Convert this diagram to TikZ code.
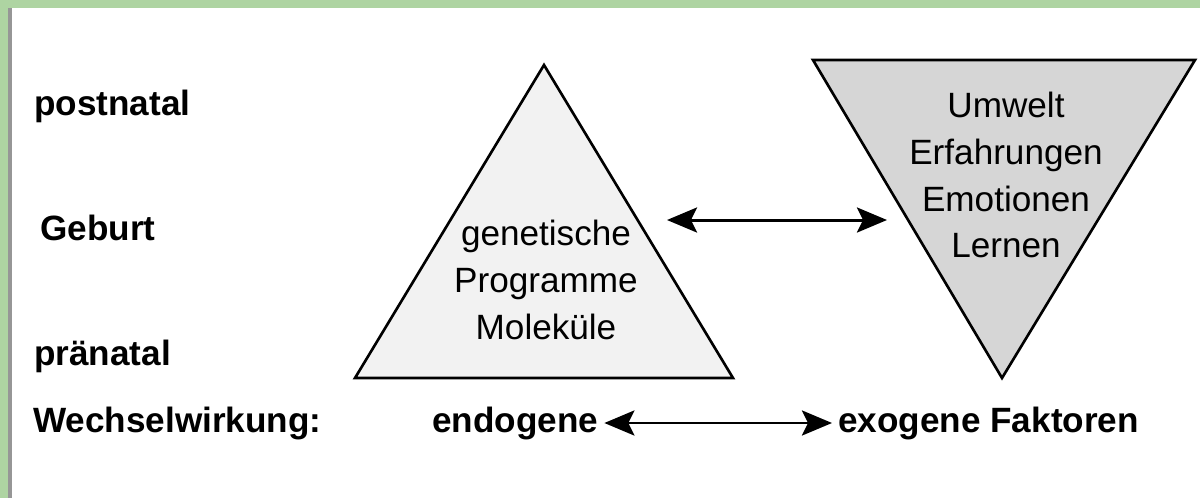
\documentclass[tikz,border=0pt]{standalone}
\usepackage{fontspec}
\setmainfont{Liberation Sans}
\usepackage{tikz}
\usetikzlibrary{arrows.meta,positioning}
\definecolor{PaperGreen}{RGB}{174,212,162}
\definecolor{EdgeGray}{RGB}{150,150,150}
\definecolor{GenFill}{RGB}{242,242,242}
\definecolor{EnvFill}{RGB}{214,214,214}

\begin{document}
\begin{tikzpicture}[x=0.02cm, y=-0.02cm,
    lbl/.style={anchor=base west, font=\fontsize{20}{24}\selectfont\bfseries},
    tri/.style={draw=black, line width=1.5pt, line join=miter},
    inner/.style={align=center, font=\fontsize{20}{26.7}\selectfont},
    arrow/.style={{Stealth[length=6mm,width=5mm,inset=1.2mm]}-{Stealth[length=6mm,width=5mm,inset=1.2mm]}, line width=1.7pt}
  ]
    \useasboundingbox (0,0) rectangle (1200,498);
    % paper frame
    \fill[PaperGreen] (0,0) rectangle (1200,498);
    \fill[white] (8,8) rectangle (1200,498);
    \fill[EdgeGray] (8,8) rectangle (12,498);

    % triangles
    \coordinate (genTop) at (544,65);
    \coordinate (genL) at (355,378);
    \coordinate (genR) at (733,378);
    \coordinate (envL) at (813,60);
    \coordinate (envR) at (1195,60);
    \coordinate (envTip) at (1002,378);
    \filldraw[tri, fill=GenFill] (genL) -- (genTop) -- (genR) -- cycle;
    \filldraw[tri, fill=EnvFill] (envL) -- (envR) -- (envTip) -- cycle;
    \node[inner] (gen) at (546,280) {genetische\\Programme\\Moleküle};
    \node[inner] (env) at (1006,175) {Umwelt\\Erfahrungen\\Emotionen\\Lernen};

    % time axis
    \node[lbl] (post) at (28,115) {postnatal};
    \node[lbl] (birth) at (34,240) {Geburt};
    \node[lbl] (pre) at (28,365) {pränatal};
    \node[lbl] (ww) at (27,432) {Wechselwirkung:};
    \node[lbl] (endo) at (426,432) {endogene};
    \node[lbl] (exo) at (832,432) {exogene Faktoren};

    \coordinate (genArr) at (667,220);
    \coordinate (envArr) at (887,220);
    \draw[arrow] (genArr) -- (envArr);
    \draw[arrow] (endo) -- (exo);
  \end{tikzpicture}
\end{document}
